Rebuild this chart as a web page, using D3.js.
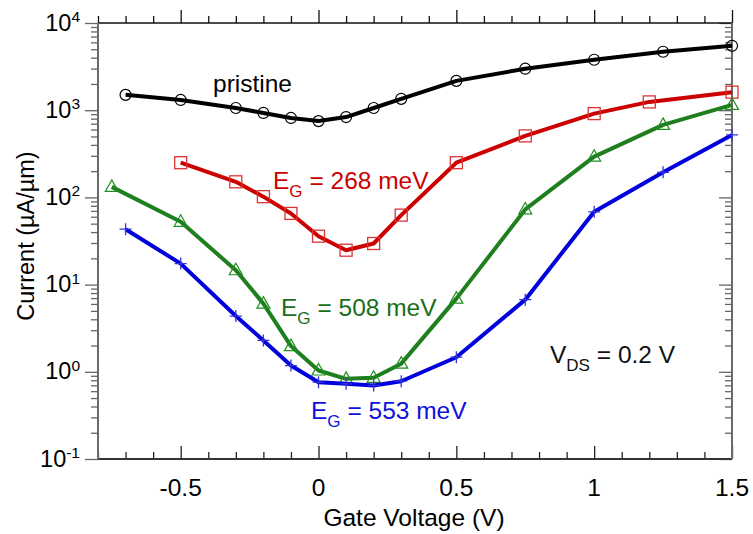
<!DOCTYPE html>
<html>
<head>
<meta charset="utf-8">
<script src="https://cdn.jsdelivr.net/npm/d3@7"></script>
<style>
  body { margin: 0; background: #fff; }
  text { font-family: "Liberation Sans", Arial, sans-serif; }
</style>
</head>
<body>
<svg id="chart" width="753" height="534"></svg>
<script>
// gate voltage (V) and drain current (uA/um) per device
var vgPristine = [-0.7, -0.5, -0.3, -0.2, -0.1, 0, 0.1, 0.2, 0.3, 0.5, 0.75, 1, 1.25, 1.5];
var iPristine  = [1500, 1310, 1060, 930, 815, 750, 835, 1060, 1350, 2170, 2990, 3790, 4680, 5480];

var vg268 = [-0.5, -0.3, -0.2, -0.1, 0, 0.1, 0.2, 0.3, 0.5, 0.75, 1, 1.2, 1.5];
var i268  = [250, 151, 102, 65.5, 35.9, 24.8, 29.6, 62.6, 250, 507, 914, 1245, 1610];

var vg508 = [-0.75, -0.5, -0.3, -0.2, -0.1, 0, 0.1, 0.2, 0.3, 0.5, 0.75, 1, 1.25, 1.5];
var i508  = [132, 52.5, 14.6, 6.05, 1.97, 1.035, 0.83, 0.853, 1.24, 6.9, 72.8, 293, 678, 1150];

var vg553 = [-0.7, -0.5, -0.3, -0.2, -0.1, 0, 0.1, 0.2, 0.3, 0.5, 0.75, 1, 1.25, 1.5];
var i553  = [43.2, 17.4, 4.36, 2.29, 1.18, 0.76, 0.728, 0.697, 0.78, 1.47, 6.72, 68.3, 194, 520];

var xTickLabels = [-0.5, 0, 0.5, 1, 1.5];
var yExponents = [-1, 0, 1, 2, 3, 4];

var svg = d3.select("#chart");
var L = 98, R = 732, T = 23, B = 459;

var x = d3.scaleLinear().domain([-0.8, 1.5]).range([L, R]);
var y = d3.scaleLog().domain([0.1, 10000]).range([B, T]);

// minor tick positions
var xMinor = d3.range(-8, 16).map(function(d) { return d / 10; })
  .filter(function(d) { return xTickLabels.indexOf(d) < 0; });
var yMinor = [];
yExponents.slice(0, -1).forEach(function(e) {
  for (var k = 2; k <= 9; k++) yMinor.push(k * Math.pow(10, e));
});

function tickAxis(axisFn, scale, vals, size, pos, col) {
  var g = svg.append("g")
    .attr("transform", pos)
    .call(axisFn(scale).tickValues(vals).tickSize(-size).tickFormat(""));
  g.select(".domain").remove();
  g.selectAll("line").attr("stroke", col).attr("stroke-width", 1.3);
  return g;
}

// x ticks, bottom and top (inward)
tickAxis(d3.axisBottom, x, xTickLabels, 13, "translate(0," + B + ")", "#222");
tickAxis(d3.axisBottom, x, xMinor, 7, "translate(0," + B + ")", "#222");
tickAxis(d3.axisTop, x, xTickLabels, -13, "translate(0," + T + ")", "#111");
tickAxis(d3.axisTop, x, xMinor, -7, "translate(0," + T + ")", "#111");
// y ticks, left and right
tickAxis(d3.axisLeft, y, yExponents.map(function(e) { return Math.pow(10, e); }), -13, "translate(" + L + ",0)", "#666");
tickAxis(d3.axisLeft, y, yMinor, -7, "translate(" + L + ",0)", "#666");
tickAxis(d3.axisRight, y, yExponents.map(function(e) { return Math.pow(10, e); }), 13, "translate(" + R + ",0)", "#666");
tickAxis(d3.axisRight, y, yMinor, 7, "translate(" + R + ",0)", "#666");

// frame
svg.append("line").attr("x1", L).attr("x2", R).attr("y1", T).attr("y2", T).attr("stroke", "#111").attr("stroke-width", 1.5);
svg.append("line").attr("x1", L).attr("x2", R).attr("y1", B).attr("y2", B).attr("stroke", "#333").attr("stroke-width", 2);
svg.append("line").attr("x1", L).attr("x2", L).attr("y1", T).attr("y2", B).attr("stroke", "#6a6a6a").attr("stroke-width", 2);
svg.append("line").attr("x1", R).attr("x2", R).attr("y1", T).attr("y2", B).attr("stroke", "#6a6a6a").attr("stroke-width", 2);

// tick labels
svg.selectAll(".xl").data(xTickLabels).enter().append("text")
  .attr("x", function(d) { return x(d); })
  .attr("y", 496)
  .attr("text-anchor", "middle")
  .attr("font-size", 24.5)
  .text(function(d) { return d; });

var yl = svg.selectAll(".yl").data(yExponents).enter().append("text")
  .attr("x", 80)
  .attr("y", function(d) { return y(Math.pow(10, d)) + 7.5; })
  .attr("text-anchor", "end")
  .attr("font-size", 23.5);
yl.append("tspan").text("10");
yl.append("tspan").attr("dy", -8.5).attr("font-size", 15.5).text(function(d) { return d; });

// axis titles
svg.append("text").attr("x", 414).attr("y", 526)
  .attr("text-anchor", "middle").attr("font-size", 24.5).text("Gate Voltage (V)");
svg.append("text").attr("transform", "translate(34,236) rotate(-90)")
  .attr("text-anchor", "middle").attr("font-size", 23.5).text("Current (\u00B5A/\u00B5m)");

// series
var series = [
  { vg: vgPristine, cur: iPristine, color: "#000", mark: "#000", shape: "circle" },
  { vg: vg268, cur: i268, color: "#cc0000", mark: "#dd3333", shape: "square" },
  { vg: vg508, cur: i508, color: "#1f7f1f", mark: "#1f8f1f", shape: "triangle" },
  { vg: vg553, cur: i553, color: "#0000dd", mark: "#3333dd", shape: "cross" }
];

var line = d3.line().x(function(d) { return x(d[0]); }).y(function(d) { return y(d[1]); });

series.forEach(function(s) {
  var pts = s.vg.map(function(v, i) { return [v, s.cur[i]]; });
  svg.append("path").datum(pts).attr("d", line)
    .attr("fill", "none").attr("stroke", s.color).attr("stroke-width", 4)
    .attr("stroke-linejoin", "round");

  var m = svg.selectAll(null).data(pts).enter().append("g")
    .attr("transform", function(d) { return "translate(" + x(d[0]) + "," + y(d[1]) + ")"; });
  if (s.shape === "circle") {
    m.append("circle").attr("r", 5.5).attr("fill", "none").attr("stroke", s.mark).attr("stroke-width", 1.2);
  } else if (s.shape === "square") {
    m.append("rect").attr("x", -6).attr("y", -6).attr("width", 12).attr("height", 12)
      .attr("fill", "none").attr("stroke", s.mark).attr("stroke-width", 1.3);
  } else if (s.shape === "triangle") {
    m.append("path").attr("d", "M0,-7L6.5,4.5L-6.5,4.5Z")
      .attr("fill", "none").attr("stroke", s.mark).attr("stroke-width", 1.2);
  } else {
    m.append("path").attr("d", "M-6,0H6M0,-6V6")
      .attr("stroke", s.mark).attr("stroke-width", 1.3);
  }
});

// annotations
function subLabel(xp, yp, main, sub, rest, color) {
  var t = svg.append("text").attr("x", xp).attr("y", yp).attr("font-size", 24.5).attr("fill", color);
  t.append("tspan").text(main);
  t.append("tspan").attr("dy", 8).attr("font-size", 17).text(sub);
  t.append("tspan").attr("dy", -8).text(rest);
}
svg.append("text").attr("x", 213).attr("y", 92).attr("font-size", 24.5).text("pristine");
subLabel(273, 189, "E", "G", " = 268 meV", "#cc0000");
subLabel(281, 316, "E", "G", " = 508 meV", "#1a6e1a");
subLabel(311, 419, "E", "G", " = 553 meV", "#1010dd");
subLabel(550, 363, "V", "DS", " = 0.2 V", "#111");
</script>
</body>
</html>
